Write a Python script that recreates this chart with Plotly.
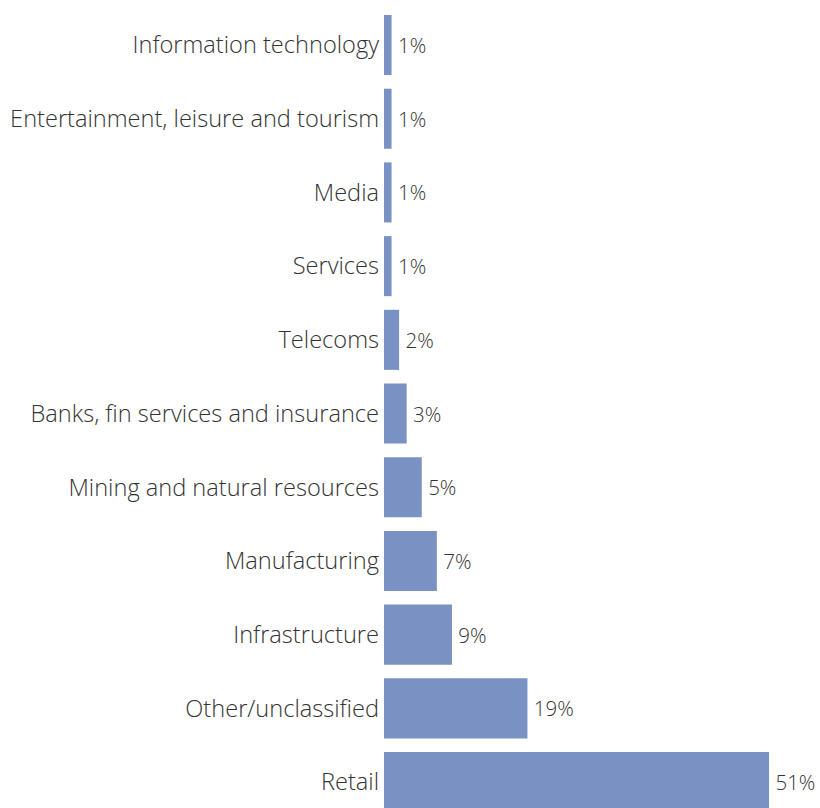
import plotly.graph_objects as go

# Sector breakdown (share of total, %)
sectors = [
    "Information technology",
    "Entertainment, leisure and tourism",
    "Media",
    "Services",
    "Telecoms",
    "Banks, fin services and insurance",
    "Mining and natural resources",
    "Manufacturing",
    "Infrastructure",
    "Other/unclassified",
    "Retail",
]
shares = [1, 1, 1, 1, 2, 3, 5, 7, 9, 19, 51]

BAR_COLOR = "#7a92c3"
TEXT_COLOR = "#333333"
FONT = "Open Sans"

fig = go.Figure(
    go.Bar(
        x=shares,
        y=sectors,
        orientation="h",
        marker=dict(color=BAR_COLOR, line=dict(width=0)),
        width=0.815,
        # thin space keeps the value a little clear of the bar end
        text=[f"\u2009{v}%" for v in shares],
        textposition="outside",
        cliponaxis=False,
        textfont=dict(family=FONT, size=20.5, color=TEXT_COLOR, weight=300),
        hoverinfo="skip",
    )
)

fig.update_layout(
    width=820,
    height=808,
    margin=dict(l=384, r=0, t=0, b=0),
    paper_bgcolor="white",
    plot_bgcolor="white",
    showlegend=False,
    font=dict(family=FONT, color=TEXT_COLOR),
    xaxis=dict(
        range=[0, 57.75],
        visible=False,
        fixedrange=True,
    ),
    yaxis=dict(
        type="category",
        categoryorder="array",
        categoryarray=sectors,
        range=[10.352, -0.611],
        showgrid=False,
        zeroline=False,
        showline=False,
        ticks="",
        ticklabelstandoff=4,
        automargin=False,
        tickfont=dict(family=FONT, size=23.6, color=TEXT_COLOR, weight=300),
        fixedrange=True,
    ),
)

fig.write_html("out.html")
